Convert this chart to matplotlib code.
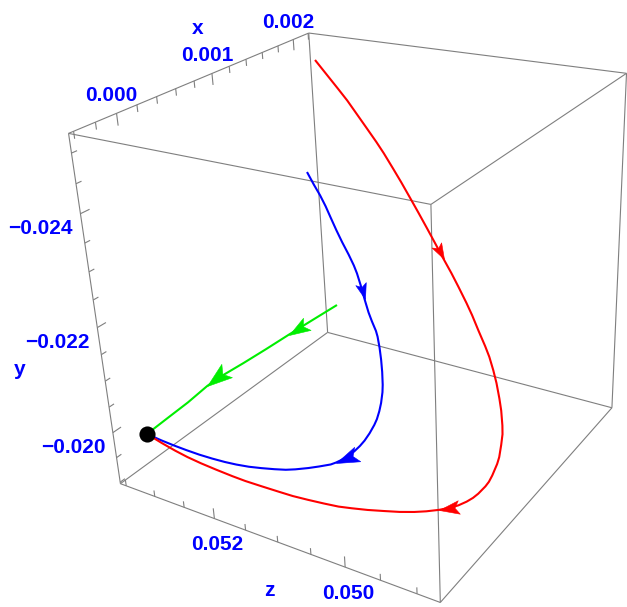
import numpy as np
import matplotlib
matplotlib.use("Agg")
import matplotlib.pyplot as plt
from matplotlib.path import Path
from matplotlib.markers import MarkerStyle
from matplotlib.transforms import Affine2D
from mpl_toolkits.mplot3d import proj3d

U = 1e-6  # trajectory coordinates are stored in micro-units

red_x = np.array([1600, 1557, 1514, 1477, 1440, 1398, 1356, 1324, 1282, 1244, 1201, 1160, 1117, 1076,
                  1035, 996, 959, 916, 885, 845, 805, 777, 744, 713, 675, 646, 611, 590, 564, 535, 518,
                  488, 471, 457, 433, 417, 399, 378, 359, 331, 300, 271, 236, 199, 160, 122, 90, 55,
                  16, -21, -56, -100, -140, -173, -215, -253, -289, -322, -359, -400]) * U
red_y = np.array([-25313, -25121, -24933, -24774, -24605, -24416, -24230, -24083, -23886, -23704,
                  -23502, -23307, -23110, -22916, -22726, -22551, -22376, -22179, -22028, -21832,
                  -21640, -21506, -21331, -21162, -20952, -20787, -20577, -20450, -20288, -20100,
                  -19990, -19797, -19688, -19606, -19467, -19383, -19305, -19223, -19165, -19101,
                  -19048, -19013, -18986, -18972, -18961, -18963, -18971, -19004, -19047, -19094,
                  -19156, -19237, -19313, -19389, -19495, -19597, -19704, -19817, -19956, -20122]) * U
red_z = np.array([52710, 52479, 52251, 52060, 51880, 51678, 51479, 51332, 51150, 50986, 50810, 50642,
                  50473, 50311, 50152, 50000, 49860, 49705, 49596, 49467, 49335, 49250, 49163, 49089,
                  49012, 48959, 48909, 48887, 48880, 48879, 48891, 48930, 48960, 48995, 49072, 49131,
                  49203, 49298, 49391, 49528, 49684, 49829, 50007, 50200, 50401, 50597, 50760, 50938,
                  51138, 51326, 51499, 51711, 51909, 52068, 52266, 52448, 52610, 52752, 52906, 53072]) * U

blue_x = np.array([1000, 961, 928, 895, 861, 824, 788, 750, 718, 695, 662, 622, 585, 560, 532, 516, 486,
                   453, 420, 385, 365, 336, 313, 291, 274, 248, 224, 205, 184, 163, 143, 126, 111, 79,
                   50, 15, -11, -41, -77, -111, -145, -177, -212, -248, -285, -323, -358, -400]) * U
blue_y = np.array([-23832, -23669, -23535, -23396, -23247, -23087, -22936, -22783, -22651, -22550,
                   -22394, -22207, -22039, -21929, -21811, -21738, -21590, -21423, -21255, -21076,
                   -20968, -20808, -20681, -20556, -20460, -20318, -20191, -20095, -19994, -19904,
                   -19824, -19769, -19725, -19671, -19626, -19582, -19561, -19556, -19560, -19571,
                   -19598, -19636, -19689, -19753, -19831, -19918, -20006, -20122]) * U
blue_z = np.array([52150, 51999, 51866, 51745, 51630, 51504, 51377, 51237, 51126, 51055, 50966, 50866,
                   50770, 50695, 50606, 50566, 50507, 50451, 50403, 50361, 50345, 50337, 50341, 50355,
                   50377, 50422, 50473, 50523, 50587, 50658, 50737, 50803, 50868, 51010, 51142, 51303,
                   51420, 51559, 51721, 51874, 52026, 52163, 52316, 52469, 52621, 52773, 52912, 53072]) * U

green_x = np.array([2200, 1879, 1562, 1255, 954, 657, 472, 184, -92, -400]) * U
green_y = np.array([-19686, -19675, -19682, -19704, -19751, -19826, -19865, -19914, -19999, -20122]) * U
green_z = np.array([53375, 53430, 53464, 53474, 53467, 53443, 53407, 53310, 53210, 53072]) * U

# equilibrium point
eq_x, eq_y, eq_z = -400 * U, -20122 * U, 53072 * U

x_lim = (-0.000445, 0.002209)
y_lim = (-0.025316, -0.018969)   # top of the box, bottom of the box
z_lim = (0.048690, 0.053604)

x_ticks = [-0.0004, -0.0002, 0.0000, 0.0002, 0.0004, 0.0006, 0.0008, 0.0010, 0.0012, 0.0014,
           0.0016, 0.0018, 0.0020, 0.0022]
x_major = [0.000, 0.001, 0.002]
x_ticklabels = ["0.000", "0.001", "0.002"]
y_ticks = [-0.0250, -0.0245, -0.0240, -0.0235, -0.0230, -0.0225, -0.0220, -0.0215, -0.0210,
           -0.0205, -0.0200, -0.0195, -0.0190]
y_major = [-0.024, -0.022, -0.020]
y_ticklabels = ["\u22120.024", "\u22120.022", "\u22120.020"]
z_ticks = [0.0490, 0.0495, 0.0500, 0.0505, 0.0510, 0.0515, 0.0520, 0.0525, 0.0530, 0.0535]
z_major = [0.050, 0.052]
z_ticklabels = ["0.050", "0.052"]

# arrowheads: (curve, index of the tip, length in pixels)
arrowheads = [("red", 14, 16), ("red", 39, 20), ("blue", 11, 16), ("blue", 31, 23),
              ("green", 2, 21), ("green", 6, 25)]

W, H = 627, 607
fig = plt.figure(figsize=(W / 100, H / 100), dpi=100)
cx, cy, S = 358.13, 292.54, 635.67
ax = fig.add_axes([(cx - S / 2) / W, (H - cy - S / 2) / H, S / W, S / H], projection="3d")
ax.set_axis_off()
ax.computed_zorder = False
ax.view_init(elev=25.4711, azim=-146.089, roll=2.7277)
ax.set_proj_type("persp", focal_length=0.38127)
ax.set_box_aspect((1, 1, 1))
# matplotlib axes: X <- x, Y <- z, Z <- y (y grows toward the bottom)
ax.set_xlim(*x_lim)
ax.set_ylim(*z_lim)
ax.set_zlim(y_lim[1], y_lim[0])
M = ax.get_proj()


def line3(x, y, z, **kw):
    return ax.plot(np.atleast_1d(x), np.atleast_1d(z), np.atleast_1d(y), **kw)


def to_display(x, y, z):
    px, py, _ = proj3d.proj_transform(np.atleast_1d(x).astype(float), np.atleast_1d(z).astype(float),
                                      np.atleast_1d(y).astype(float), M)
    return ax.transData.transform(np.column_stack([px, py]))


def label(x, y, z, s, dx, dy, **kw):
    d = to_display(x, y, z)[0]
    fig.text((d[0] + dx) / W, (d[1] - dy) / H, s, **kw)


box_style = dict(color="#7f7f7f", lw=0.8, zorder=1, solid_capstyle="butt")
for a in (0, 1):
    for b in (0, 1):
        line3(list(x_lim), [y_lim[a]] * 2, [z_lim[b]] * 2, **box_style)
        line3([x_lim[a]] * 2, list(y_lim), [z_lim[b]] * 2, **box_style)
        line3([x_lim[a]] * 2, [y_lim[b]] * 2, list(z_lim), **box_style)

xr = x_lim[1] - x_lim[0]
yr = y_lim[1] - y_lim[0]
major_len, minor_len = 0.032, 0.019


def tick_len(v, majors):
    return major_len if any(np.isclose(v, m) for m in majors) else minor_len


for v in x_ticks:
    L = tick_len(v, x_major) * yr
    line3([v, v], [y_lim[0], y_lim[0] + L], [z_lim[1]] * 2, **box_style)
for v in y_ticks:
    L = tick_len(v, y_major) * xr
    line3([x_lim[0], x_lim[0] + L], [v, v], [z_lim[1]] * 2, **box_style)
for v in z_ticks:
    L = tick_len(v, z_major) * yr
    line3([x_lim[0]] * 2, [y_lim[1], y_lim[1] - L], [v, v], **box_style)

font = dict(family="Liberation Sans", weight="bold", size=15, color="#0000ff")
for v, s in zip(x_major, x_ticklabels):
    label(v, y_lim[0], z_lim[1], s, -5, -12, ha="center", va="baseline", **font)
for v, s in zip(y_major, y_ticklabels):
    label(x_lim[0], v, z_lim[1], s, -7.7, 20, ha="right", va="baseline", **font)
for v, s in zip(z_major, z_ticklabels):
    label(x_lim[0], y_lim[1], v, s, 3, 31.5, ha="center", va="baseline", **font)

label(0.0009, y_lim[0], z_lim[1], "x", -5.5, -43, ha="center", va="baseline", **font)
label(x_lim[0], 0.5 * (y_lim[0] + y_lim[1]), z_lim[1], "y", -76.5, 55, ha="center", va="baseline", **font)
label(x_lim[0], y_lim[1], 0.5 * (z_lim[0] + z_lim[1]), "z", 1.4, 57.5, ha="center", va="baseline", **font)

curves = {
    "red": (red_x, red_y, red_z, "#ff0000"),
    "blue": (blue_x, blue_y, blue_z, "#0000ff"),
    "green": (green_x, green_y, green_z, "#00ee00"),
}
for name in ("green", "blue", "red"):
    x, y, z, col = curves[name]
    line3(x, y, z, color=col, lw=1.5, zorder=3, solid_capstyle="butt", solid_joinstyle="round")

head = Path([(0, 0), (-1, 0.34), (-0.78, 0), (-1, -0.34), (0, 0)],
            [Path.MOVETO, Path.LINETO, Path.LINETO, Path.LINETO, Path.CLOSEPOLY])
for name, i, length in arrowheads:
    x, y, z, col = curves[name]
    d = to_display([x[i - 1], x[i + 1]], [y[i - 1], y[i + 1]], [z[i - 1], z[i + 1]])
    ang = np.degrees(np.arctan2(d[1, 1] - d[0, 1], d[1, 0] - d[0, 0]))
    mk = MarkerStyle(head, transform=Affine2D().rotate_deg(ang))
    line3(x[i], y[i], z[i], marker=mk, ms=2 * length * 0.72, color=col, mec=col, mew=0.4,
          ls="none", zorder=4)

ax.scatter([eq_x], [eq_z], [eq_y], s=135, c="black", depthshade=False, zorder=5, linewidths=0)

fig.savefig("out.png", dpi=100)
